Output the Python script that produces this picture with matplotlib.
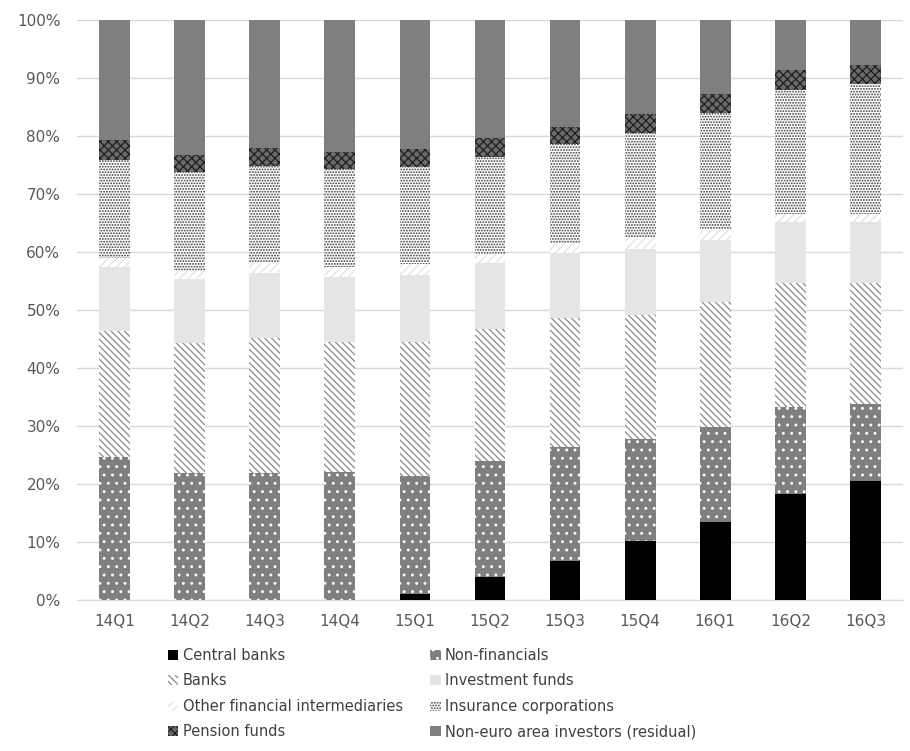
import matplotlib
matplotlib.use("Agg")
import matplotlib.pyplot as plt
from matplotlib.patches import Patch
import numpy as np

plt.rcParams['font.family'] = ['DejaVu Sans']
plt.rcParams['hatch.linewidth'] = 0.9

quarters = ["14Q1", "14Q2", "14Q3", "14Q4", "15Q1", "15Q2", "15Q3", "15Q4", "16Q1", "16Q2", "16Q3"]

central_banks = [0.0, 0.0, 0.0, 0.0, 1.0, 3.9, 6.8, 10.1, 13.5, 18.3, 20.6]
non_financials = [24.6, 21.9, 21.9, 22.1, 20.3, 20.1, 19.5, 17.7, 16.3, 14.9, 13.2]
banks = [21.8, 22.4, 23.3, 22.4, 23.2, 22.8, 22.3, 21.3, 21.5, 21.5, 20.9]
investment_funds = [11.0, 11.1, 11.2, 11.2, 11.5, 11.3, 11.3, 11.5, 10.8, 10.4, 10.5]
other_fin_interm = [1.6, 1.3, 1.7, 1.7, 1.9, 1.6, 1.7, 1.8, 1.8, 1.5, 1.4]
insurance_corps = [16.9, 17.1, 16.7, 16.9, 16.8, 16.7, 17.0, 18.2, 20.1, 21.4, 22.3]
pension_funds = [3.4, 2.9, 3.1, 3.0, 3.1, 3.3, 3.0, 3.2, 3.2, 3.4, 3.3]
non_euro_residual = [20.7, 23.3, 22.1, 22.7, 22.2, 20.3, 18.4, 16.2, 12.8, 8.6, 7.8]

series_names = ["Central banks", "Non-financials", "Banks", "Investment funds",
                "Other financial intermediaries", "Insurance corporations",
                "Pension funds", "Non-euro area investors (residual)"]
series_values = [central_banks, non_financials, banks, investment_funds,
                 other_fin_interm, insurance_corps, pension_funds, non_euro_residual]

# (facecolor, hatch, hatch colour)
styles = [
    ("#000000", None, "#000000"),
    ("#7f7f7f", "..", "#ffffff"),
    ("#ffffff", "\\\\\\\\\\", "#8a8a8a"),
    ("#e5e5e5", None, "#e5e5e5"),
    ("#ffffff", "////", "#e2e2e2"),
    ("#ffffff", "......", "#3c3c3c"),
    ("#6a6a6a", "xxxx", "#1e1e1e"),
    ("#7f7f7f", None, "#7f7f7f"),
]

fig = plt.figure(figsize=(9.10, 7.51), dpi=100)
ax = fig.add_axes([77/910, 1-600/751, 826/910, 580/751])

x = np.arange(len(quarters))
bottom = np.zeros(len(quarters))
handles = []
for name, vals, (fc, hatch, hc) in zip(series_names, series_values, styles):
    vals = np.array(vals)
    ax.bar(x, vals, width=0.41, bottom=bottom, color=fc, hatch=hatch,
           edgecolor=hc, linewidth=0, zorder=3)
    bottom += vals
    handles.append(Patch(facecolor=fc, hatch=hatch, edgecolor=hc, linewidth=0, label=name))

ax.set_xlim(-0.5, len(quarters) - 0.5)
ax.set_ylim(0, 100)
ax.set_yticks(np.arange(0, 101, 10))
ax.set_yticklabels([f"{v}%" for v in range(0, 101, 10)])
ax.set_xticks(x)
ax.set_xticklabels(quarters)
ax.yaxis.grid(True, color="#d9d9d9", linewidth=1.0, zorder=0)
ax.set_axisbelow(True)
for s in ["top", "right", "left"]:
    ax.spines[s].set_visible(False)
ax.spines["bottom"].set_color("#d9d9d9")
ax.tick_params(axis="both", length=0, labelsize=11, colors="#595959")
ax.tick_params(axis="x", pad=10)
ax.tick_params(axis="y", pad=12)

# legend: column-major order so rows read CB/NF, Banks/Inv, OFI/Ins, Pension/Residual
order = [0, 2, 4, 6, 1, 3, 5, 7]
leg = fig.legend([handles[i] for i in order], [series_names[i] for i in order],
                 ncol=2, loc="upper left", bbox_to_anchor=(168/910, 1-648/751),
                 frameon=False, fontsize=10.5, handlelength=0.7, handleheight=0.7,
                 handletextpad=0.3, columnspacing=1.9, labelspacing=0.71,
                 borderaxespad=0, borderpad=0)
for t in leg.get_texts():
    t.set_color("#404040")

fig.savefig("out.png", dpi=100)
